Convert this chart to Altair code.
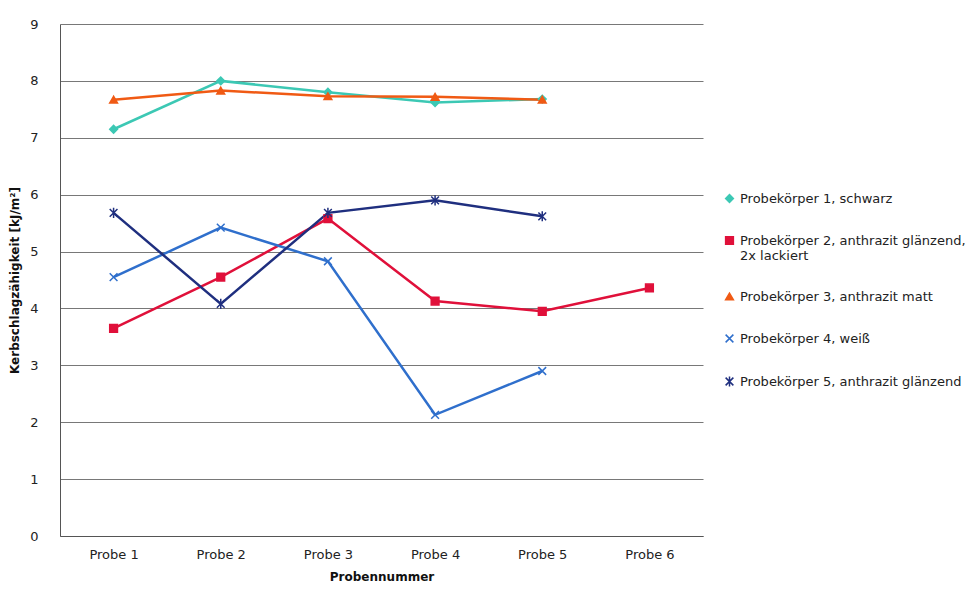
import pandas as pd
import altair as alt

proben = ["Probe 1", "Probe 2", "Probe 3", "Probe 4", "Probe 5", "Probe 6"]
series = [
    "Probekörper 1, schwarz",
    "Probekörper 2, anthrazit glänzend,\n2x lackiert",
    "Probekörper 3, anthrazit matt",
    "Probekörper 4, weiß",
    "Probekörper 5, anthrazit glänzend",
]
s1 = [7.15, 8.0, 7.8, 7.62, 7.68]
s2 = [3.65, 4.55, 5.58, 4.13, 3.95, 4.36]
s3 = [7.67, 7.83, 7.73, 7.72, 7.67]
s4 = [4.55, 5.42, 4.83, 2.13, 2.9]
s5 = [5.68, 4.08, 5.68, 5.9, 5.62]
colors = ["#3cc8b4", "#e0103a", "#f05a14", "#2f6fcc", "#1f2f7f"]
shapes = ["diamond", "square", "triangle-up",
          "M-1,-1L1,1M-1,1L1,-1",
          "M-1,-1L1,1M-1,1L1,-1M0,-1.3L0,1.3"]

rows = []
for name, vals in zip(series, [s1, s2, s3, s4, s5]):
    for p, v in zip(proben, vals):
        rows.append({"Probe": p, "Serie": name, "Wert": v})
df = pd.DataFrame(rows)

font = "DejaVu Sans"
x = alt.X("Probe:N", sort=proben, scale=alt.Scale(type="point", padding=0.5, domain=proben),
          axis=alt.Axis(title="Probennummer", labelAngle=0, ticks=False, domain=True,
                        labelPadding=12, titlePadding=10))
y = alt.Y("Wert:Q", scale=alt.Scale(domain=[0, 9], nice=False),
          axis=alt.Axis(title="Kerbschlagzähigkeit [kJ/m²]", tickCount=9, ticks=False,
                        labelPadding=22, titlePadding=8, gridColor="#555555", gridWidth=0.8))
col = alt.Color("Serie:N", sort=series, scale=alt.Scale(domain=series, range=colors),
                legend=alt.Legend(title=None, orient="none", legendX=663, legendY=168,
                                  labelExpr="split(datum.label, '\\n')", rowPadding=27,
                                  labelFontSize=13, symbolSize=60, symbolStrokeWidth=1.5,
                                  labelLimit=300))
shp = alt.Shape("Serie:N", sort=series, scale=alt.Scale(domain=series, range=shapes))
strk = alt.Stroke("Serie:N", sort=series, scale=alt.Scale(domain=series, range=colors))

lines = alt.Chart(df).mark_line(strokeWidth=2.5).encode(x=x, y=y, color=col, detail="Serie:N")
points = alt.Chart(df).mark_point(filled=True, size=60, strokeWidth=1.5, opacity=1).encode(
    x=x, y=y, color=col, shape=shp, stroke=strk)

chart = (lines + points).properties(
    width=643, height=512, autosize=alt.AutoSizeParams(type="pad"),
    padding={"left": 0, "top": 10, "right": 0, "bottom": 0},
).configure_axis(
    labelFont=font, titleFont=font, labelFontSize=13, titleFontSize=12,
    labelColor="#222222", titleColor="#111111", domainColor="#555555",
).configure_axisX(grid=False).configure_legend(labelFont=font, labelColor="#222222"
).configure_view(stroke=None)

chart.save("out.html", embed_options={"renderer": "svg", "actions": False})
